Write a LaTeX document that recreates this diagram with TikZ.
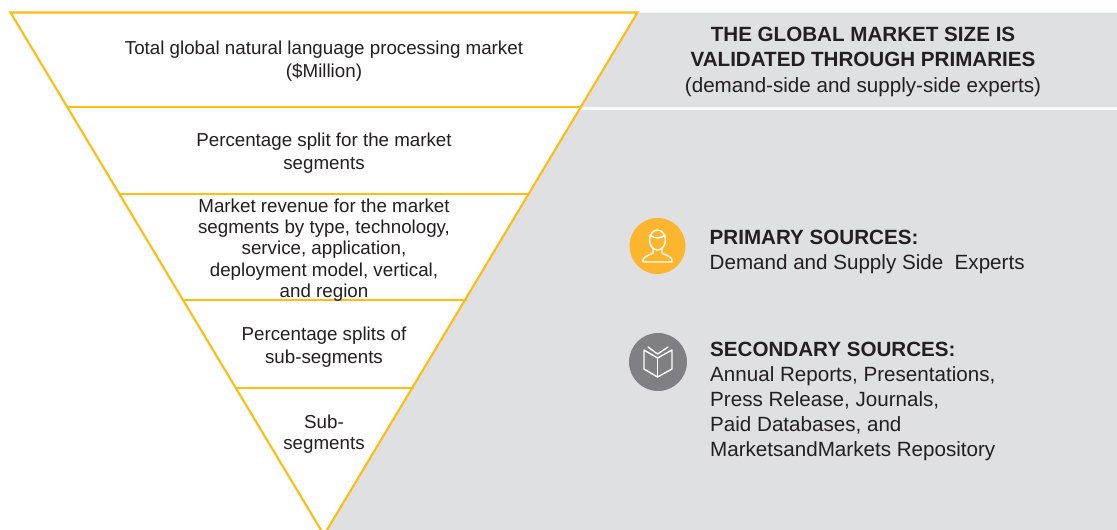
\documentclass[tikz,border=0pt]{standalone}
\usepackage{fontspec}
\setmainfont{Liberation Sans}
\usetikzlibrary{calc}
\definecolor{funnelyellow}{HTML}{FDBE10}
\definecolor{panelgray}{HTML}{DFE0E2}
\definecolor{inkdark}{HTML}{231F20}
\definecolor{primaryorange}{HTML}{FDB52E}
\definecolor{secondarygray}{HTML}{808084}
\tikzset{
  funnel/.style={draw=funnelyellow, line width=2.1pt, line cap=round},
  splittext/.style={text=inkdark, align=center, font=\fontsize{18.75}{#1}\selectfont, inner sep=0pt},
  splittext/.default={22.5},
  headtext/.style={text=inkdark, align=center, font=\fontsize{20.6}{25.5}\selectfont, inner sep=0pt},
  sourcetext/.style={text=inkdark, align=left, anchor=north west, font=\fontsize{20.6}{25}\selectfont, inner sep=0pt},
  iconline/.style={draw=white, line width=1.4pt, line join=round, line cap=round},
}

\begin{document}
\begin{tikzpicture}[x=1pt,y=-1pt]
  \useasboundingbox (0,0) rectangle (1117,530);
  \clip (0,0) rectangle (1117,530);
  \fill [white] (0,0) rectangle (1117,530);

  % gray panels
  \fill [panelgray] (638,12.5) -- (1117,12.5) -- (1117,107) -- (581,107) -- cycle;
  \fill [panelgray] (579,110) -- (1117,110) -- (1117,530) -- (326,530) -- cycle;

  % funnel
  \coordinate (topleft) at (10.5,12.5);
  \coordinate (topright) at (637.5,12.5);
  \coordinate (apex) at (324,535);
  \draw [funnel] (topleft) -- (topright) -- (apex) -- cycle;
  \draw [funnel] (67,107) -- (581,107);
  \draw [funnel] (120,194) -- (528,194);
  \draw [funnel] (184,300) -- (466,300);
  \draw [funnel] (236,388) -- (413,388);

  \node [splittext] (total) at (324,61) {Total global natural language processing market\\(\$Million)};
  \node [splittext] (split) at (324,153) {Percentage split for the market\\segments};
  \node [splittext=21.4] (revenue) at (324,250) {Market revenue for the market\\segments by type, technology,\\service, application,\\deployment model, vertical,\\and region};
  \node [splittext] (subsplit) at (324,347) {Percentage splits of\\sub-segments};
  \node [splittext=21.5] (sub) at (324,434) {Sub-\\segments};

  % right side header
  \node [headtext] (validated) at (863,61.5) {\textbf{THE GLOBAL MARKET SIZE IS}\\\textbf{VALIDATED THROUGH PRIMARIES}\\(demand-side and supply-side experts)};

  % primary sources
  \node [circle, fill=primaryorange, minimum size=56pt, inner sep=0pt] (primary) at (657.5,246) {};
  \draw [iconline] (657.5,240) ellipse (8 and 10);
  \draw [iconline] (650,235) .. controls (654,239) and (661,239) .. (665,235);
  \draw [iconline] (653,249) -- (653,253) -- (645,257) .. controls (643,258) and (643,260) .. (643,262)
    -- (672,262) .. controls (672,260) and (672,258) .. (670,257) -- (662,253) -- (662,249);
  \node [sourcetext] (primarytext) at (709.5,230) {\textbf{PRIMARY SOURCES:}\\Demand and Supply Side\ \ Experts};

  % secondary sources
  \node [circle, fill=secondarygray, minimum size=58pt, inner sep=0pt] (secondary) at (658,362) {};
  \draw [iconline] (657.5,377) -- (644,369) -- (644,350) -- (657.5,358) -- (672,350) -- (672,369) -- cycle;
  \draw [iconline] (657.5,358) -- (657.5,377);
  \draw [iconline] (648,347) -- (657.5,354) -- (668,347);
  \node [sourcetext] (secondarytext) at (710,342) {\textbf{SECONDARY SOURCES:}\\Annual Reports, Presentations,\\Press Release, Journals,\\Paid Databases, and\\MarketsandMarkets Repository};
\end{tikzpicture}
\end{document}
